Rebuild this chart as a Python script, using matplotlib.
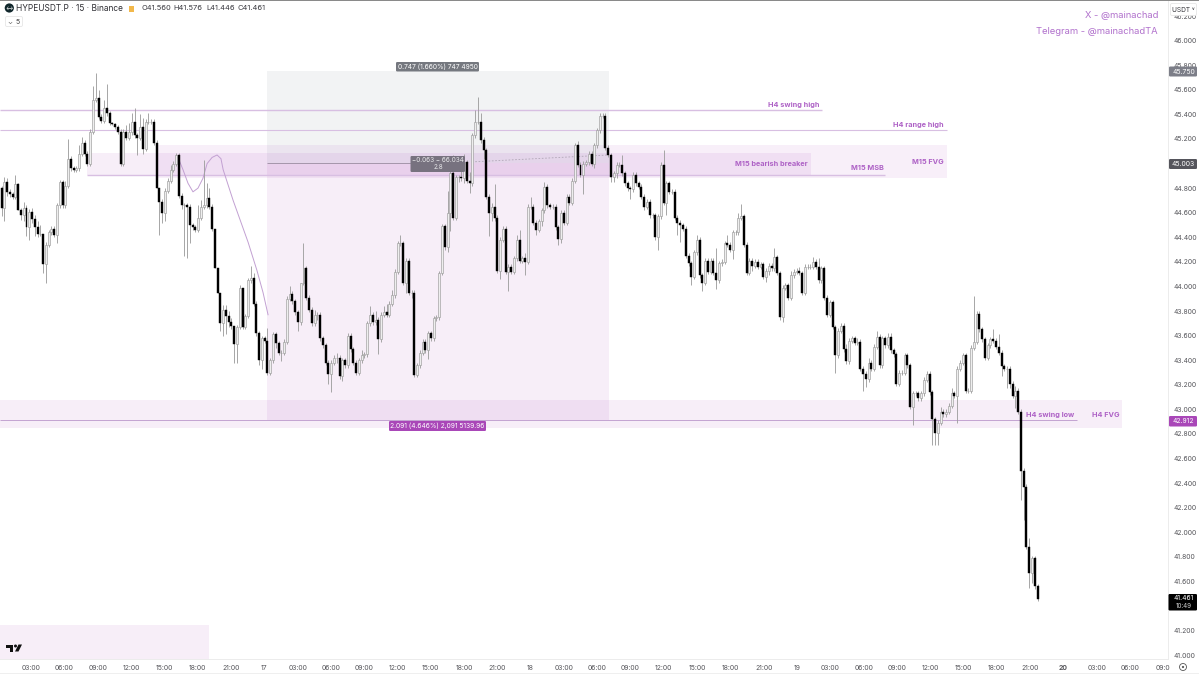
import matplotlib
matplotlib.use("Agg")
import matplotlib.pyplot as plt
from matplotlib.patches import Rectangle, FancyBboxPatch, Circle, Polygon

plt.rcParams['font.family'] = ['Inter', 'DejaVu Sans']

first_open = 44.80
closes = [
44.64,44.85,44.77,44.75,44.73,44.83,44.62,44.58,44.64,44.48,
44.61,44.55,44.48,44.43,44.43,44.18,44.34,44.44,44.47,44.42,
44.66,44.85,44.66,44.82,45.04,44.96,44.95,44.96,45.08,45.17,
45.08,45.00,45.26,45.52,45.53,45.38,45.35,45.45,45.41,45.33,
45.32,45.30,45.26,45.00,45.26,45.21,45.26,45.34,45.23,45.21,
45.30,45.12,45.34,45.34,45.34,45.17,44.80,44.69,44.60,44.78,
44.86,44.95,45.00,45.07,44.74,44.66,44.66,44.65,44.50,44.48,
44.46,44.56,44.65,44.66,44.72,44.65,44.47,44.15,43.95,43.70,
43.81,43.76,43.71,43.68,43.53,43.67,43.99,43.67,43.76,44.05,
44.07,43.86,43.62,43.40,43.58,43.56,43.30,43.40,43.61,43.54,
43.46,43.46,43.55,43.90,43.94,43.88,43.79,43.71,44.03,44.15,
43.91,43.81,43.70,43.77,43.77,43.58,43.52,43.38,43.29,43.38,
43.42,43.42,43.27,43.40,43.36,43.60,43.49,43.38,43.30,43.40,
43.44,43.45,43.70,43.77,43.71,43.73,43.57,43.77,43.79,43.77,
43.86,43.93,44.12,44.35,44.35,44.03,44.21,43.95,43.95,43.28,
43.36,43.46,43.55,43.48,43.62,43.58,43.74,43.75,44.11,44.49,
44.32,44.60,44.92,44.56,44.89,44.89,44.88,45.01,44.86,44.84,
45.23,45.34,45.34,45.19,45.11,44.73,44.60,44.65,44.56,44.13,
44.38,44.47,44.12,44.16,44.12,44.23,44.38,44.21,44.23,44.20,
44.65,44.65,44.52,44.46,44.53,44.62,44.81,44.66,44.65,44.65,
44.48,44.39,44.60,44.52,44.73,44.68,44.86,45.15,44.99,44.91,
45.00,45.01,45.08,45.00,45.15,45.27,45.39,45.39,45.13,45.07,
44.89,44.92,44.99,44.99,44.92,44.84,44.80,44.79,44.91,44.84,
44.81,44.73,44.65,44.69,44.58,44.58,44.40,44.57,44.99,44.68,
44.84,44.77,44.77,44.56,44.52,44.50,44.47,44.25,44.19,44.08,
44.28,44.38,44.09,44.03,44.21,44.12,44.21,44.11,44.05,44.19,
44.20,44.35,44.34,44.30,44.44,44.44,44.56,44.57,44.34,44.11,
44.21,44.17,44.20,44.16,44.18,44.08,44.13,44.17,44.15,44.24,
44.11,43.75,43.99,44.01,43.91,44.09,44.12,44.13,44.11,43.95,
44.16,44.16,44.16,44.20,44.16,44.05,44.15,43.91,43.77,43.87,
43.67,43.44,43.64,43.68,43.49,43.39,43.56,43.58,43.54,43.55,
43.33,43.29,43.25,43.38,43.33,43.51,43.59,43.36,43.58,43.52,
43.59,43.48,43.45,43.21,43.30,43.30,43.44,43.36,43.02,43.13,
43.13,43.09,43.13,43.24,43.29,43.14,42.92,42.81,42.89,42.98,
42.96,42.98,43.03,43.13,43.11,43.33,43.38,43.44,43.15,43.15,
43.50,43.55,43.78,43.65,43.57,43.42,43.52,43.57,43.56,43.51,
43.46,43.35,43.33,43.33,43.21,43.11,43.15,42.98,42.50,42.37,
41.88,41.67,41.79,41.56,41.461,
]
wick_up_cents = [
2,4,3,2,2,8,1,2,5,2, 2,3,3,5,7,0,2,2,2,2, 2,2,2,4,16,2,2,2,7,5,
2,2,2,11,21,7,2,7,20,2, 1,1,1,2,2,5,7,7,11,2, 10,7,2,7,2,2,2,0,2,2,
2,4,2,2,2,2,2,2,2,2, 2,10,5,37,12,8,2,0,0,0, 4,4,4,3,0,2,2,0,2,2,
10,4,2,2,2,2,10,2,2,2, 2,2,2,2,6,2,2,2,0,20, 2,2,2,4,2,2,2,2,2,2,
2,4,2,2,2,2,2,2,2,2, 4,2,2,7,2,7,2,2,5,7, 2,4,2,2,7,2,2,2,2,2,
2,2,2,2,2,2,2,2,2,2, 2,18,2,15,2,2,8,7,2,7, 2,10,20,7,3,2,2,3,18,2,
2,2,2,2,2,2,4,8,2,4, 2,8,2,2,2,2,4,2,2,2, 2,2,2,2,2,2,2,2,3,2,
2,2,2,2,2,2,2,2,2,2, 2,2,2,2,8,2,2,2,2,2, 2,2,2,2,2,2,2,2,2,12,
2,2,2,2,2,2,2,2,2,2, 2,4,2,2,2,2,2,2,20,2, 2,2,7,2,2,2,4,10,2,2,
2,2,2,2,2,2,2,2,2,7, 2,2,2,2,2,4,2,2,3,2, 2,2,2,4,2,7,2,2,2,2,
2,2,2,2,2,4,2,2,2,3, 2,2,2,4,2,2,5,2,2,2, 3,3,2,2,2,2,2,2,2,2,
2,2,2,2,2,2,2,2,2,4, 2,2,2,4,2,2,2,2,2,2, 2,37,2,2,2,2,2,2,8,2,
10,2,2,2,2,2,4,2,2,2, 2,7,2,2,2,
]
wick_dn_cents = [
7,11,3,2,2,2,0,4,5,7, 10,3,7,3,2,7,15,2,2,2, 7,2,2,2,2,2,2,2,2,2,
2,2,2,2,2,2,2,2,2,2, 1,2,2,2,2,2,2,3,2,14, 2,4,2,2,2,2,0,27,8,7,
2,2,2,2,2,3,41,42,15,2, 2,2,2,2,2,2,2,0,0,6, 10,15,4,3,15,15,2,2,2,2,
2,2,2,4,7,2,2,2,2,4, 2,7,2,2,2,2,2,7,2,2, 2,2,2,2,4,2,2,2,8,15,
2,4,2,4,2,2,2,2,2,2, 2,2,2,2,2,2,12,2,2,2, 2,2,2,2,2,2,8,2,4,2,
2,2,2,2,7,2,2,2,2,2, 2,4,15,2,2,4,2,4,2,8, 2,2,2,2,7,2,19,7,3,2,
7,2,2,16,2,2,2,2,2,11, 2,2,2,4,2,4,2,2,2,2, 2,5,4,2,2,2,2,2,2,2,
16,2,2,2,4,2,2,2,2,2, 4,4,4,2,2,2,2,8,2,2, 2,2,3,2,2,2,2,10,2,2,
10,2,2,2,10,14,2,2,2,7, 2,2,2,7,2,2,2,2,7,2, 2,2,2,2,8,2,2,2,2,2,
2,4,2,2,2,2,4,4,2,2, 2,2,4,2,2,2,2,2,2,2, 2,2,2,2,2,2,2,2,2,2,
2,14,2,2,2,2,2,2,2,2, 2,14,7,3,2,2,2,2,2,2, 2,2,2,2,2,2,2,2,2,15,
2,2,2,2,2,2,21,10,10,2, 2,2,2,2,2,22,2,2,2,2, 2,2,2,2,2,2,2,2,2,2,
2,8,2,16,4,2,10,2,24,27, 2,12,8,2,2,
]
time_labels = ['03:00','06:00','09:00','12:00','15:00','18:00','21:00','17',
               '03:00','06:00','09:00','12:00','15:00','18:00','21:00','18',
               '03:00','06:00','09:00','12:00','15:00','18:00','21:00','19',
               '03:00','06:00','09:00','12:00','15:00','18:00','21:00','20',
               '03:00','06:00','09:0']
time_positions = [11.7+12.02*k for k in range(len(time_labels))]
price_ticks = [46.2,46.0,45.8,45.6,45.4,45.2,45.0,44.8,44.6,44.4,44.2,44.0,43.8,43.6,43.4,
               43.2,43.0,42.8,42.6,42.4,42.2,42.0,41.8,41.6,41.2,41.0]
curve_i = [64.7,66.5,68.3,70.1,71.9,73.7,75.2,77,78.8,80.2,81,84.6,90,93.2,95.4,97.2]
curve_p = [45.05,44.95,44.84,44.77,44.80,44.88,45.00,45.05,45.07,45.04,44.95,44.70,44.36,44.13,43.95,43.77]

W, H = 1199, 676
fig = plt.figure(figsize=(W/100, H/100), dpi=100, facecolor='white')
AX_L, AX_R, AX_T, AX_B = 0, 1168, 1, 659
ax = fig.add_axes([AX_L/W, 1-AX_B/H, (AX_R-AX_L)/W, (AX_B-AX_T)/H])
PX_I, PX_P = 2.77, 122.9
ax.set_xlim((AX_L+1.2)/PX_I, (AX_R+1.2)/PX_I)
ax.set_ylim(46.331-AX_B/PX_P, 46.331-AX_T/PX_P)
xl, xr = ax.get_xlim()
yb, yt = ax.get_ylim()
PURPLE = '#9c27b0'
GREYZ = '#787b86'

def zone(i0, i1, p0, p1, color=PURPLE, alpha=0.08, z=1):
    ax.add_patch(Rectangle((i0, p0), i1-i0, p1-p0, fc=color, ec='none', alpha=alpha, zorder=z))

zone(96.8, 220.3, 45.003, 45.75, GREYZ, 0.09)
zone(96.8, 220.3, 42.912, 45.003, PURPLE, 0.08)
zone(xl, 405.5, 42.85, 43.075)
zone(57.1, 342.3, 44.88, 45.15, alpha=0.07)
zone(31.8, 293.2, 44.91, 45.09, alpha=0.08)
zone(xl, 75.9, yb, 41.245)

line_c = '#d8bfe2'
ax.hlines(45.435, xl, 297.2, color=line_c, lw=1.0, zorder=2)
ax.hlines(45.27, xl, 342.3, color=line_c, lw=0.8, zorder=2)
ax.hlines(44.91, 31.8, 319.9, color=line_c, lw=1.0, zorder=2)
ax.hlines(42.912, xl, 389.2, color='#c3a3d1', lw=0.7, zorder=2)
ax.hlines(45.003, 96.8, 164, color='#9a8da0', lw=0.6, zorder=2)
ax.plot([172, 220], [45.015, 45.07], color='#b0a6b6', lw=0.6, ls=(0, (2, 2)), zorder=2)
ax.plot(curve_i, curve_p, color='#c2a0d2', lw=0.7, zorder=2)

xs, opens, prev = [], [], first_open
for k, c in enumerate(closes):
    xs.append(k+1); opens.append(prev); prev = c
highs = [max(o, c)+u/100 for o, c, u in zip(opens, closes, wick_up_cents)]
lows = [min(o, c)-d/100 for o, c, d in zip(opens, closes, wick_dn_cents)]
ax.vlines(xs, lows, highs, color='#a0a0a0', lw=0.65, zorder=3)
bw = 0.72
ux = [x for x, o, c in zip(xs, opens, closes) if c >= o]
ub = [o for o, c in zip(opens, closes) if c >= o]
uh = [c-o for o, c in zip(opens, closes) if c >= o]
dx = [x for x, o, c in zip(xs, opens, closes) if c < o]
db = [c for o, c in zip(opens, closes) if c < o]
dh = [o-c for o, c in zip(opens, closes) if c < o]
ax.bar(ux, uh, bottom=ub, width=bw, facecolor='#eeeeee', edgecolor='#9c9c9c', linewidth=0.45, zorder=4)
ax.bar(dx, dh, bottom=db, width=bw, facecolor='#000000', edgecolor='#000000', linewidth=0.3, zorder=5)

ax.set_xticks(time_positions)
ax.set_xticklabels(time_labels, fontsize=4.9, color='#55555a')
for lbl in ax.get_xticklabels():
    if lbl.get_text() == '20':
        lbl.set_fontweight('bold')
ax.tick_params(axis='x', length=0, pad=4.2)
ax.yaxis.tick_right()
ax.set_yticks(price_ticks)
ax.set_yticklabels(['%.3f' % p for p in price_ticks], fontsize=4.9, color='#55555a')
ax.tick_params(axis='y', length=0, pad=3.9)
for s in ('top', 'left'):
    ax.spines[s].set_visible(False)
for s in ('bottom', 'right'):
    ax.spines[s].set_color('#ececec'); ax.spines[s].set_linewidth(0.7)

# overlay in pixel space for annotation furniture
ov = fig.add_axes([0, 0, 1, 1], facecolor='none')
ov.set_xlim(0, W); ov.set_ylim(H, 0); ov.axis('off')
ov.add_patch(Rectangle((0, 0), W, 1.2, fc='#8a8a8a', ec='none'))
ov.plot([0, W], [673, 673], color='#efefef', lw=0.7)

def tag(x0, x1, y0, y1, color, radius=1.2):
    ov.add_patch(FancyBboxPatch((x0+radius, y0+radius), x1-x0-2*radius, y1-y0-2*radius,
                                boxstyle='round,pad=%f,rounding_size=%f' % (radius, radius),
                                fc=color, ec='none', zorder=8))

TC = '#ae62c6'
for txt, x, y in [('H4 swing high', 819.5, 104.5), ('H4 range high', 944, 125),
                  ('M15 bearish breaker', 808, 164), ('M15 MSB', 883.5, 168.5),
                  ('M15 FVG', 944, 162), ('H4 swing low', 1074.5, 415), ('H4 FVG', 1119, 415)]:
    ov.text(x, y, txt, ha='right', va='center', fontsize=5.25, fontweight='bold', color=TC, zorder=9)
ov.text(1158, 15, 'X - @mainachad', ha='right', va='center', fontsize=6.75, color='#b070cc')
ov.text(1158, 32, 'Telegram - @mainachadTA', ha='right', va='center', fontsize=6.75, color='#b070cc')

tag(396, 479, 62, 71.5, '#75787f')
ov.text(437.5, 66.8, '0.747 (1.660%) 747 4950', ha='center', va='center', fontsize=4.8, color='white', zorder=9)
tag(389, 486, 421, 431, '#a947b8')
ov.text(437.5, 426, '2.091 (4.646%) 2,091 5139.96', ha='center', va='center', fontsize=4.8, color='white', zorder=9)
tag(410.5, 465, 156, 172, '#77727f')
ov.text(438, 160.5, '\u22120.063 \u2212 66.034', ha='center', va='center', fontsize=4.6, color='#e8e8ea', zorder=9)
ov.text(438, 167, '2.8', ha='center', va='center', fontsize=4.6, color='#e8e8ea', zorder=9)

tag(1169, 1197, 66.5, 76.5, '#7c7e88')
ov.text(1183.5, 71.7, '45.750', ha='center', va='center', fontsize=4.9, color='white', zorder=9)
tag(1169, 1197, 159, 169, '#55555c')
ov.text(1183.5, 164, '45.003', ha='center', va='center', fontsize=4.9, color='white', zorder=9)
tag(1169, 1197, 416, 426.5, '#a947b8')
ov.text(1183.5, 421.2, '42.912', ha='center', va='center', fontsize=4.9, color='white', zorder=9)
tag(1168.5, 1197, 594, 610.5, '#000000')
ov.text(1183.5, 598.5, '41.461', ha='center', va='center', fontsize=4.9, color='white', zorder=9)
ov.text(1183.5, 606, '10:49', ha='center', va='center', fontsize=4.5, color='#d0d0d0', zorder=9)

# header
ov.add_patch(Circle((9.3, 8), 4.6, fc='#10262b', ec='none'))
ov.text(9.3, 8, '\u2194', ha='center', va='center', fontsize=4, color='white')
ov.text(16.5, 8.3, 'HYPEUSDT.P \u00b7 15 \u00b7 Binance', ha='left', va='center', fontsize=6.0, color='#2e2e33')
ov.add_patch(Rectangle((128.5, 5.5), 5.5, 6, fc='#f2b84b', ec='none'))
for txt, x in [('O41.560', 141), ('H41.576', 173.5), ('L41.446', 206), ('C41.461', 237.5)]:
    ov.text(x, 8.3, txt, ha='left', va='center', fontsize=5.4, color='#3a3a40')
ov.add_patch(FancyBboxPatch((6, 17), 16, 9, boxstyle='round,pad=0.5,rounding_size=1.5', fc='white', ec='#e6e6e6', lw=0.6))
ov.text(10, 21.6, '\u2304', ha='center', va='center', fontsize=4.6, color='#555555')
ov.text(17.5, 21.6, '5', ha='center', va='center', fontsize=5, color='#444444')
ov.add_patch(FancyBboxPatch((1171, 4), 25, 11, boxstyle='round,pad=0.5,rounding_size=1.5', fc='white', ec='#e6e6e6', lw=0.6, zorder=7))
ov.text(1183.5, 9.5, 'USDT \u02c5', ha='center', va='center', fontsize=4.7, color='#333338', zorder=8)

# TradingView mark and corner button
ov.add_patch(Polygon([(6, 644.5), (13, 644.5), (13, 651.5), (10, 651.5), (10, 647.5), (6, 647.5)], fc='#111111', ec='none', zorder=8))
ov.add_patch(Circle((15.5, 646), 1.5, fc='#111111', ec='none', zorder=8))
ov.add_patch(Polygon([(18.5, 644.5), (22, 644.5), (18.5, 651.5), (15, 651.5)], fc='#111111', ec='none', zorder=8))
ov.add_patch(Circle((1183, 667), 3.5, fc='none', ec='#555555', lw=0.6))
ov.add_patch(Circle((1183, 667), 1.1, fc='#555555', ec='none'))

fig.savefig('out.png', dpi=100)
